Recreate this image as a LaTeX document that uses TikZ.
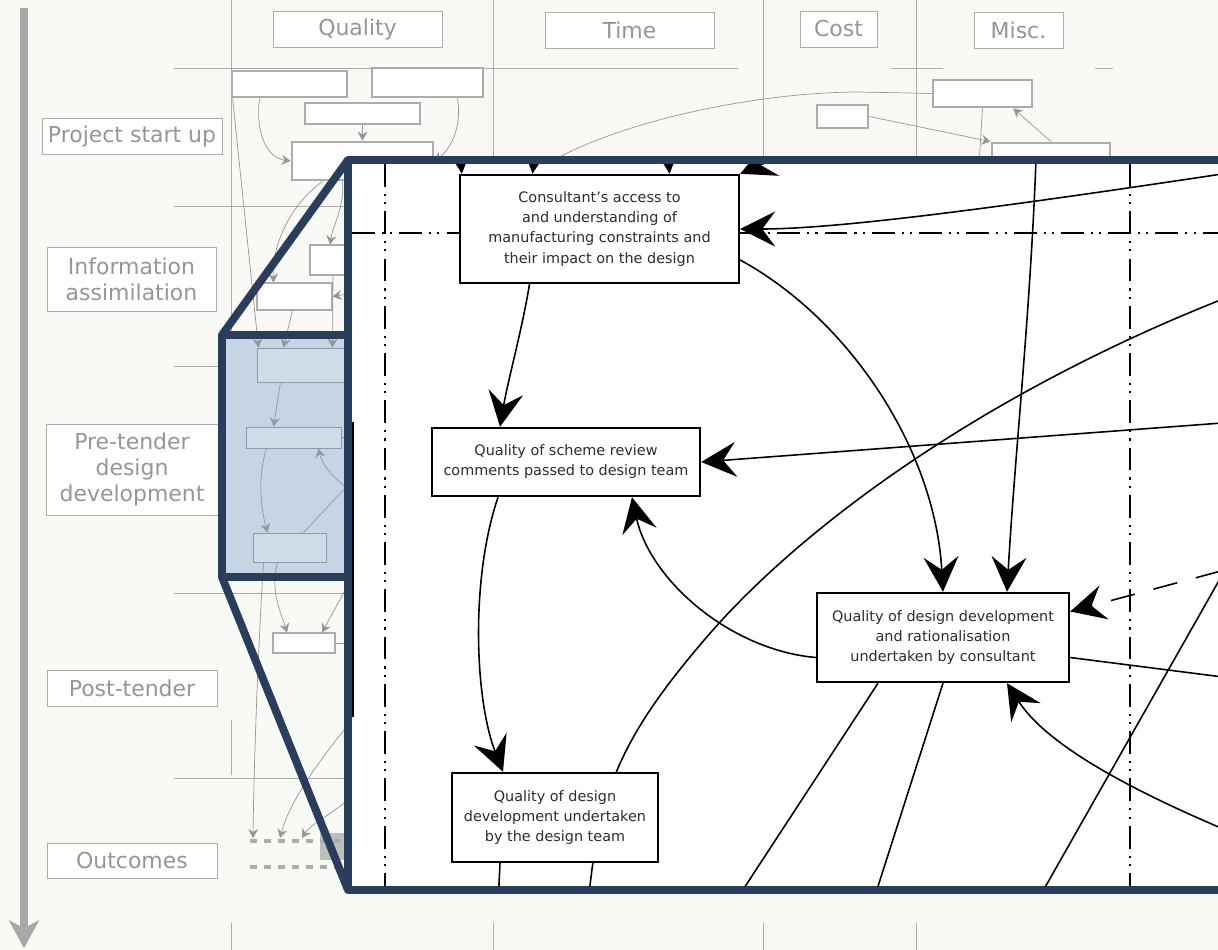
\documentclass[tikz,border=0pt]{standalone}
\usepackage{fontspec}
\setmainfont{DejaVu Sans}
\usetikzlibrary{arrows.meta,calc}

\definecolor{paper}{RGB}{249,249,245}
\definecolor{rule}{RGB}{172,172,172}
\definecolor{faint}{RGB}{150,150,150}
\definecolor{axisgrey}{RGB}{168,168,168}
\definecolor{blockgrey}{RGB}{190,190,190}
\definecolor{navy}{RGB}{40,62,92}
\definecolor{panel}{RGB}{199,212,228}
\definecolor{panelfill}{RGB}{208,219,234}
\definecolor{panelink}{RGB}{140,154,174}
\definecolor{ink}{RGB}{45,45,45}

\tikzset{
  phase/.style={draw=rule,fill=white,text=faint,font=\fontsize{12.5}{15}\selectfont,align=center,inner sep=0pt},
  factor/.style={draw=black,line width=1.4pt,fill=white,text=ink,font=\fontsize{8.2}{11.4}\selectfont,align=center,inner sep=2pt},
  mini/.style={draw=rule,line width=1.6pt,fill=white,inner sep=0pt},
  minithin/.style={draw=rule,line width=0.6pt,fill=white,inner sep=0pt},
  panelbox/.style={draw=panelink,line width=0.5pt,fill=panelfill,inner sep=0pt},
  link/.style={line width=0.9pt,-{Stealth[length=7mm,width=7mm,inset=2.6mm]}},
  plain/.style={line width=0.9pt},
  greylink/.style={draw=faint,line width=0.4pt,-{Stealth[length=1.8mm,width=2mm,inset=0.6mm]}},
  faintline/.style={draw=faint,line width=0.4pt},
  panellink/.style={draw=panelink,line width=0.4pt,-{Stealth[length=1.8mm,width=2mm,inset=0.6mm]}},
  panelline/.style={draw=panelink,line width=0.4pt},
  dashdotdot/.style={line width=1.1pt,dash pattern=on 13pt off 4pt on 1.2pt off 3.5pt on 1.2pt off 4pt},
  grid/.style={draw=rule,line width=0.5pt},
  zoomframe/.style={draw=navy,line width=4.5pt,line join=round},
}

\begin{document}
\begin{tikzpicture}[x=0.02cm,y=-0.02cm]
\useasboundingbox (0,0) rectangle (1218,950);
\fill[paper] (0,0) rectangle (1218,950);

% grid of the matrix
\draw[grid] (231,0) -- (231,335) (231,720) -- (231,775) (231,923) -- (231,950);
\draw[grid] (493,0) -- (493,160) (493,923) -- (493,950);
\draw[grid] (763,0) -- (763,160) (763,923) -- (763,950);
\draw[grid] (916,0) -- (916,160) (916,923) -- (916,950);
\draw[grid] (174,68) -- (738,68) (890,68) -- (943,68) (1095,68) -- (1113,68);
\draw[grid] (174,206) -- (347,206) (174,366) -- (257,366) (174,593) -- (345,593) (174,778) -- (345,778);

% time axis
\draw[draw=axisgrey,line width=4.5pt,-{Stealth[length=5.5mm,width=6mm,inset=1.5mm]}] (24,8) -- (24,948);

% column headers
\node[phase,minimum width=3.38cm,minimum height=0.72cm] (hqual) at (357.5,29) {Quality};
\node[phase,minimum width=3.38cm,minimum height=0.72cm] (htime) at (629.5,30) {Time};
\node[phase,minimum width=1.54cm,minimum height=0.72cm] (hcost) at (838.5,29) {Cost};
\node[phase,minimum width=1.78cm,minimum height=0.72cm] (hmisc) at (1018.5,30) {Misc.};

% project phases
\node[phase,minimum width=3.6cm,minimum height=0.72cm] (start) at (132,136) {Project start up};
\node[phase,minimum width=3.38cm,minimum height=1.28cm] (assim) at (131.5,279) {Information\\assimilation};
\node[phase,minimum width=3.44cm,minimum height=1.82cm] (pretender) at (132,469.5) {Pre-tender\\design\\development};
\node[phase,minimum width=3.4cm,minimum height=0.72cm] (posttender) at (132,688) {Post-tender};
\node[phase,minimum width=3.4cm,minimum height=0.7cm] (outcomes) at (132,860.5) {Outcomes};

% small factor boxes of the full map
\node[mini,minimum width=2.3cm,minimum height=0.52cm] (m1) at (289.5,84) {};
\node[mini,minimum width=2.22cm,minimum height=0.58cm] (m2) at (427.5,82.5) {};
\node[mini,minimum width=2.3cm,minimum height=0.42cm] (m3) at (362.5,113.5) {};
\node[mini,minimum width=2.82cm,minimum height=0.76cm] (m4) at (362.5,161) {};
\node[minithin,minimum width=1.4cm,minimum height=0.6cm] (m5) at (345,260) {};
\node[minithin,minimum width=1.5cm,minimum height=0.54cm] (m6) at (294.5,296.5) {};
\node[mini,minimum width=1.98cm,minimum height=0.54cm] (m7) at (982.5,93.5) {};
\node[mini,minimum width=1.02cm,minimum height=0.46cm] (m8) at (842.5,116.5) {};
\node[mini,minimum width=2.36cm,minimum height=0.64cm] (m9) at (1051,159) {};
\node[minithin,minimum width=1.24cm,minimum height=0.4cm] (m13) at (304,643) {};

\draw[greylink] ($(m1.south)+(-30,0)$) .. controls (255,135) and (268,158) .. (m4.west);
\draw[greylink] ($(m2.south)+(30,0)$) .. controls (462,125) and (452,148) .. (m4.east);
\draw[greylink] (m3) -- (m4);
\draw[greylink] ($(m4.south)+(-40,0)$) .. controls (290,205) and (272,245) .. ($(m6.north)+(-21,0)$);
\draw[greylink] ($(m4.south)+(-20,0)$) .. controls (345,205) and (333,225) .. ($(m5.north)+(-15,0)$);
\coordinate (g1) at (360,292);
\draw[greylink] (g1) -- (m6.east);
\draw[faintline] (m7.west) -- (860,92) .. controls (760,92) and (620,120) .. (545,165);
\draw[greylink] (m8.east) -- (m9.north west);
\draw[greylink] (m9.north) -- ($(m7.south east)+(-20,0)$);
\draw[faintline] (m7.south) -- (979,165);

% outcomes row
\coordinate (o1) at (253,838);
\coordinate (o2) at (280,838);
\coordinate (o3) at (302,838);
\fill[blockgrey] (320,833) rectangle (345,860);
\draw[draw=rule,line width=1.8pt,dash pattern=on 4pt off 4pt] (250,841) -- (343,841) (250,867) -- (343,867);
\draw[faintline] (m13.east) -- (345,643);
\coordinate (g2) at (348,585);
\coordinate (g3) at (348,725);
\coordinate (g4) at (348,800);
\draw[greylink] (g2) -- ($(m13.north)+(18,0)$);
\draw[greylink] (g3) .. controls (320,760) and (290,800) .. (o2);
\draw[greylink] (g4) .. controls (330,815) and (310,825) .. (o3);

% highlighted part of the map
\fill[panel] (222,335) rectangle (348,577);
\node[panelbox,minimum width=2.06cm,minimum height=0.68cm] (m10) at (308.5,365) {};
\node[panelbox,minimum width=1.9cm,minimum height=0.42cm] (m11) at (293.5,437.5) {};
\node[panelbox,minimum width=1.46cm,minimum height=0.58cm] (m12) at (289.5,547.5) {};
\draw[greylink] ($(m1.south west)+(2,0)$) -- ($(m10.north)+(-50,0)$);
\draw[greylink] ($(m6.south)+(-2,0)$) -- ($(m10.north)+(-25,0)$);
\draw[greylink] ($(m5.south)+(-12,0)$) -- ($(m10.north)+(24,0)$);
\draw[panellink] ($(m10.south)+(-28,0)$) -- ($(m11.north)+(-20,0)$);
\draw[panellink] ($(m11.south)+(-27,0)$) .. controls (258,475) and (260,505) .. ($(m12.north)+(-22,0)$);
\coordinate (p1) at (348,488);
\draw[panellink] (p1) .. controls (335,480) and (322,465) .. ($(m11.south)+(25,0)$);
\draw[panelline] ($(m12.north)+(14,0)$) -- (348,485);
\draw[panelline] (m11.east) -- (348,437.5);
\draw[greylink] ($(m12.south)+(-12,0)$) .. controls (270,590) and (280,610) .. ($(m13.north)+(-17,0)$);
\draw[greylink] ($(m12.south)+(-26,0)$) .. controls (258,650) and (254,760) .. (o1);

% zoom frame
\draw[zoomframe] (348,160) -- (222,335) -- (222,577) -- (348,890);
\draw[zoomframe] (222,335) -- (348,335) (222,577) -- (348,577);
\draw[zoomframe,fill=white] (348,160) rectangle (1240,890);
\draw[line width=1.2pt] (353,422) -- (353,717);

\begin{scope}
\clip (352,164) rectangle (1218,886);
\draw[dashdotdot] (385,164) -- (385,886);
\draw[dashdotdot] (1130,164) -- (1130,886);
\draw[dashdotdot] (352,233) -- (1218,233);

\coordinate (c7a) at (588,905);
\coordinate (c7m) at (700,645);
\coordinate (c7b) at (1265,283);
\draw[plain] (c7a) .. controls (598,800) and (615,745) .. (c7m) .. controls (800,525) and (1000,380) .. (c7b);

\node[factor,minimum width=5.58cm,minimum height=2.16cm] (access) at (599.5,229)
  {Consultant's access to\\and understanding of\\manufacturing constraints and\\their impact on the design};
\node[factor,minimum width=5.36cm,minimum height=1.36cm] (review) at (566,462)
  {Quality of scheme review\\comments passed to design team};
\node[factor,minimum width=4.12cm,minimum height=1.78cm] (teamdev) at (555,817.5)
  {Quality of design\\development undertaken\\by the design team};
\node[factor,minimum width=5.04cm,minimum height=1.78cm] (consdev) at (943,637.5)
  {Quality of design development\\and rationalisation\\undertaken by consultant};

% links from outside the frame
\coordinate (t1) at (452,60);
\coordinate (t2) at (545,60);
\coordinate (t3) at (660,60);
\coordinate (t4) at (1000,60);
\coordinate (c5) at (1037,130);
\coordinate (c6) at (1262,168);
\coordinate (c8) at (1262,420);
\coordinate (c9) at (1262,682);
\coordinate (c10) at (1262,560);
\coordinate (c11) at (1262,845);
\coordinate (c12) at (733,905);
\coordinate (c13) at (872,905);
\coordinate (c14a) at (1242,540);
\coordinate (c14b) at (1035,905);
\coordinate (c15) at (498,905);

\draw[link] (t1) -- ($(access.north west)+(3,0)$);
\draw[link] (t2) -- ($(access.north)+(-67,0)$);
\draw[link] (t3) -- ($(access.north)+(70,0)$);
\draw[link] (t4) -- (access.north east);

\draw[link] ($(access.south)+(-70,0)$) .. controls (522,330) and (508,380) .. ($(review.north)+(-66,0)$);
\draw[link] ($(review.south)+(-68,0)$) .. controls (470,580) and (475,700) .. ($(teamdev.north)+(-52,0)$);
\draw[link] ($(consdev.west)+(0,20)$) .. controls (730,650) and (650,580) .. ($(review.south)+(66,0)$);
\draw[link] ($(access.east)+(0,31)$) .. controls (850,320) and (935,450) .. (consdev.north);
\draw[link] (c5) .. controls (1032,300) and (1015,450) .. ($(consdev.north)+(64,0)$);
\draw[link] (c6) .. controls (1050,200) and (850,229) .. (access.east);
\draw[link] (c8) -- (review.east);
\draw[link,dash pattern=on 14pt off 11pt] (c10) -- ($(consdev.east)+(0,-26)$);
\draw[link] (c11) .. controls (1150,800) and (1050,750) .. ($(consdev.south)+(64,0)$);

\draw[plain] ($(consdev.east)+(0,20)$) -- (c9);
\draw[plain] ($(consdev.south)+(-65,0)$) -- (c12);
\draw[plain] (consdev.south) -- (c13);
\draw[plain] (c14a) -- (c14b);
\draw[plain] ($(teamdev.south)+(-55,0)$) -- (c15);
\end{scope}
\end{tikzpicture}
\end{document}
